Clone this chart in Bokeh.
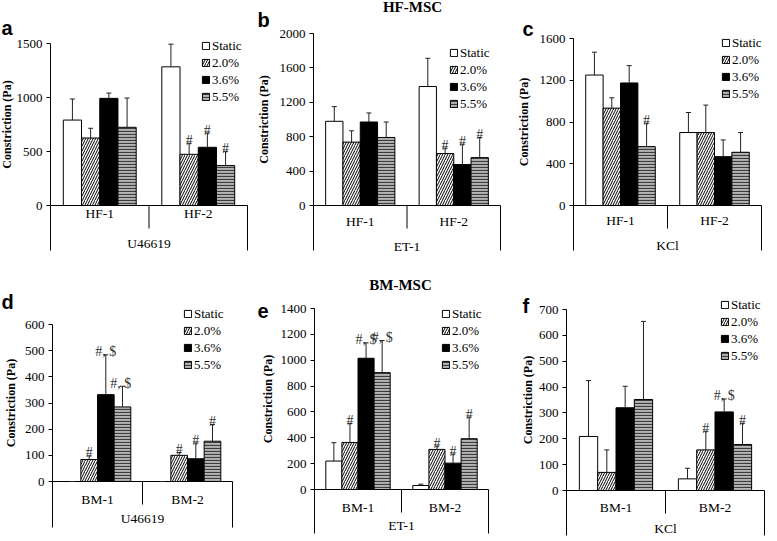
from bokeh.plotting import figure
from bokeh.layouts import row, column
from bokeh.models import (ColumnDataSource, FixedTicker, Range1d, Legend, LegendItem,
                          Whisker, TeeHead, LinearAxis)
from bokeh.core.properties import value
from bokeh.embed import file_html
from bokeh.resources import INLINE

conditions = ["Static", "2.0%", "3.6%", "5.5%"]

# ---- HF-MSC ----
a_groups = ["HF-1", "HF-2"]
a_agent = "U46619"
a_mean = [[791, 625, 992, 724], [1284, 474, 539, 370]]
a_sd = [[195, 90, 49, 271], [210, 102, 132, 132]]
a_marks = [["", "", "", ""], ["", "#", "#", "#"]]
a_ticks = [0, 500, 1000, 1500]

b_groups = ["HF-1", "HF-2"]
b_agent = "ET-1"
b_mean = [[979, 737, 971, 791], [1384, 604, 476, 557]]
b_sd = [[171, 132, 105, 180], [328, 63, 237, 234]]
b_marks = [["", "", "", ""], ["", "#", "#", "#"]]
b_ticks = [0, 400, 800, 1200, 1600, 2000]

c_groups = ["HF-1", "HF-2"]
c_agent = "KCl"
c_mean = [[1250, 933, 1174, 564], [699, 699, 468, 510]]
c_sd = [[219, 99, 166, 225], [192, 263, 160, 189]]
c_marks = [["", "", "", "#"], ["", "", "", ""]]
c_ticks = [0, 400, 800, 1200, 1600]

# ---- BM-MSC ----
d_groups = ["BM-1", "BM-2"]
d_agent = "U46619"
d_mean = [[0, 84, 332, 285], [0, 100, 87, 154]]
d_sd = [[0, 14, 152, 79], [0, 11, 60, 64]]
d_marks = [["", "#", "#, $", "#,  $"], ["", "#", "#", "#"]]
d_ticks = [0, 100, 200, 300, 400, 500, 600]

e_groups = ["BM-1", "BM-2"]
e_agent = "ET-1"
e_mean = [[220, 364, 1015, 904], [31, 310, 204, 393]]
e_sd = [[142, 147, 119, 248], [10, 26, 70, 167]]
e_marks = [["", "#", "#, $", "#, $"], ["", "#", "#", "#"]]
e_ticks = [0, 200, 400, 600, 800, 1000, 1200, 1400]

f_groups = ["BM-1", "BM-2"]
f_agent = "KCl"
f_mean = [[209, 70, 320, 352], [45, 157, 304, 178]]
f_sd = [[216, 87, 83, 302], [41, 72, 50, 82]]
f_marks = [["", "", "", ""], ["", "#", "#, $", "#"]]
f_ticks = [0, 100, 200, 300, 400, 500, 600, 700]

SERIF = "Liberation Serif"
SANS = "Liberation Sans"

STYLE = {
    "Static": dict(fill_color="white"),
    "2.0%": dict(fill_color="white", hatch_pattern="right_diagonal_line", hatch_color="black",
                 hatch_scale=5, hatch_weight=1),
    "3.6%": dict(fill_color="black"),
    "5.5%": dict(fill_color="#b4b4b4", hatch_pattern="horizontal_line", hatch_color="#3c3c3c",
                 hatch_scale=3, hatch_weight=1.2),
}
OFFS = [-0.2775, -0.0925, 0.0925, 0.2775]
BW = 0.185


def panel(letter, groups, agent, mean, sd, marks, ticks, geo, leg, let_off,
          goff, aoff, lab_std, title=None):
    cl, ct, cw, ch, axx, rx, ty, zy, by = geo
    ng = len(groups)
    ymax = ticks[-1]
    gpx = (rx - axx) / ng           # pixels per group
    spx = (zy - ty) / ymax          # pixels per Pa
    x0, x1 = -(axx - cl) / gpx, (cl + cw - axx) / gpx
    y0, y1 = -(ct + ch - zy) / spx, (zy - ct) / spx
    ybot = -(by - zy) / spx
    p = figure(width=cw, height=ch, output_backend="svg", toolbar_location=None,
               x_range=Range1d(x0, x1), y_range=Range1d(y0, y1),
               x_axis_location=None, y_axis_location=None,
               min_border=0, min_border_left=0, min_border_right=0,
               min_border_top=0, min_border_bottom=0)
    p.xgrid.visible = False
    p.ygrid.visible = False
    p.outline_line_color = None
    p.background_fill_color = "white"
    p.border_fill_color = "white"

    ax = LinearAxis(fixed_location=0, bounds=(0, ymax), ticker=FixedTicker(ticks=ticks),
                    minor_tick_line_color=None, major_tick_in=0, major_tick_out=4,
                    axis_line_color="black", major_tick_line_color="black",
                    major_label_text_font=SERIF, major_label_text_font_size="13px",
                    major_label_text_color="black", major_label_standoff=4,
                    axis_label="Constriction (Pa)", axis_label_text_font=SERIF,
                    axis_label_text_font_style="bold", axis_label_text_font_size="12px",
                    axis_label_text_color="black", axis_label_standoff=lab_std)
    p.add_layout(ax, "left")

    items = []
    for k, cond in enumerate(conditions):
        xs = [g + 0.5 + OFFS[k] for g in range(ng)]
        tops = [mean[g][k] for g in range(ng)]
        ups = [mean[g][k] + sd[g][k] for g in range(ng)]
        src = ColumnDataSource(dict(x=xs, top=tops, upper=ups))
        r = p.vbar(x="x", top="top", bottom=0, width=BW, source=src,
                   line_color="black", line_width=1, **STYLE[cond])
        p.add_layout(Whisker(source=src, base="x", lower="top", upper="upper",
                             line_color="#222222", line_width=1, level="glyph",
                             upper_head=TeeHead(size=5, line_color="#222222", line_width=1),
                             lower_head=None))
        items.append(LegendItem(label=cond, renderers=[r]))
        mx = [xs[g] for g in range(ng) if marks[g][k]]
        my = [ups[g] for g in range(ng) if marks[g][k]]
        mt = [marks[g][k] for g in range(ng) if marks[g][k]]
        if mt:
            p.text(x=mx, y=my, text=mt, text_font=value(SERIF), text_font_size="14px",
                   text_align="center", text_baseline="alphabetic", y_offset=-3,
                   text_color="#333333")

    # two-level category axis, Excel style
    p.segment(x0=[0], y0=[0], x1=[ng], y1=[0], line_color="black", line_width=1)
    p.segment(x0=[0], y0=[ybot], x1=[0], y1=[0], line_color="black", line_width=1)
    p.segment(x0=[ng], y0=[ybot], x1=[ng], y1=[0], line_color="black", line_width=1)
    p.segment(x0=[ng / 2], y0=[0], x1=[ng / 2], y1=[-23 / spx], line_color="black", line_width=1)
    p.text(x=[g + 0.5 for g in range(ng)], y=[0] * ng, text=groups, y_offset=goff,
           text_font=value(SERIF), text_font_size="13.5px", text_align="center",
           text_baseline="middle", text_color="black")
    p.text(x=[ng / 2], y=[0], text=[agent], y_offset=aoff,
           text_font=value(SERIF), text_font_size="13.5px", text_align="center",
           text_baseline="middle", text_color="black")

    legend = Legend(items=items, location=leg, border_line_color=None,
                    background_fill_alpha=0, padding=0, margin=0, spacing=0,
                    glyph_width=9, glyph_height=9, label_height=17, label_standoff=2,
                    label_text_font=SERIF, label_text_font_size="13px",
                    label_text_baseline="middle", label_text_color="black")
    p.add_layout(legend)

    lx, ly = let_off
    p.text(x=[x0], y=[y1], text=[letter], x_offset=lx, y_offset=ly,
           text_font=value(SANS), text_font_style="bold", text_font_size="20px",
           text_align="left", text_baseline="middle", text_color="black")
    if title:
        tt, tx, tyy = title
        p.text(x=[x0], y=[y1], text=[tt], x_offset=tx, y_offset=tyy,
               text_font=value(SERIF), text_font_style="bold", text_font_size="15px",
               text_align="center", text_baseline="middle", text_color="black")
    return p


pa = panel("a", a_groups, a_agent, a_mean, a_sd, a_marks, a_ticks,
           (0, 0, 255, 266, 50, 247, 43, 205, 250), (201, 161), (1, 27), 8, 38, 0)
pb = panel("b", b_groups, b_agent, b_mean, b_sd, b_marks, b_ticks,
           (255, 0, 263, 266, 313, 500, 33, 205, 250), (194, 154), (2, 19), 16, 41, 6,
           title=("HF-MSC", 157, 6))
pc = panel("c", c_groups, c_agent, c_mean, c_sd, c_marks, c_ticks,
           (518, 0, 258, 266, 573, 761, 38, 205, 250), (203, 164), (4, 28), 15, 40, 6)
pd_ = panel("d", d_groups, d_agent, d_mean, d_sd, d_marks, d_ticks,
            (0, 266, 255, 274, 52, 232, 324, 481, 527), (183, 167), (1, 35), 18, 37, 4)
pe = panel("e", e_groups, e_agent, e_mean, e_sd, e_marks, e_ticks,
           (255, 266, 263, 274, 314, 488, 308, 489, 533), (186, 167), (2, 44), 18, 36, 3,
           title=("BM-MSC", 145, 18))
pf = panel("f", f_groups, f_agent, f_mean, f_sd, f_marks, f_ticks,
           (518, 266, 258, 274, 566, 764, 309, 490, 535), (202, 176), (4, 39), 17, 38, 1)

layout = column(row(pa, pb, pc), row(pd_, pe, pf))
open("out.html", "w").write(file_html(layout, INLINE))
